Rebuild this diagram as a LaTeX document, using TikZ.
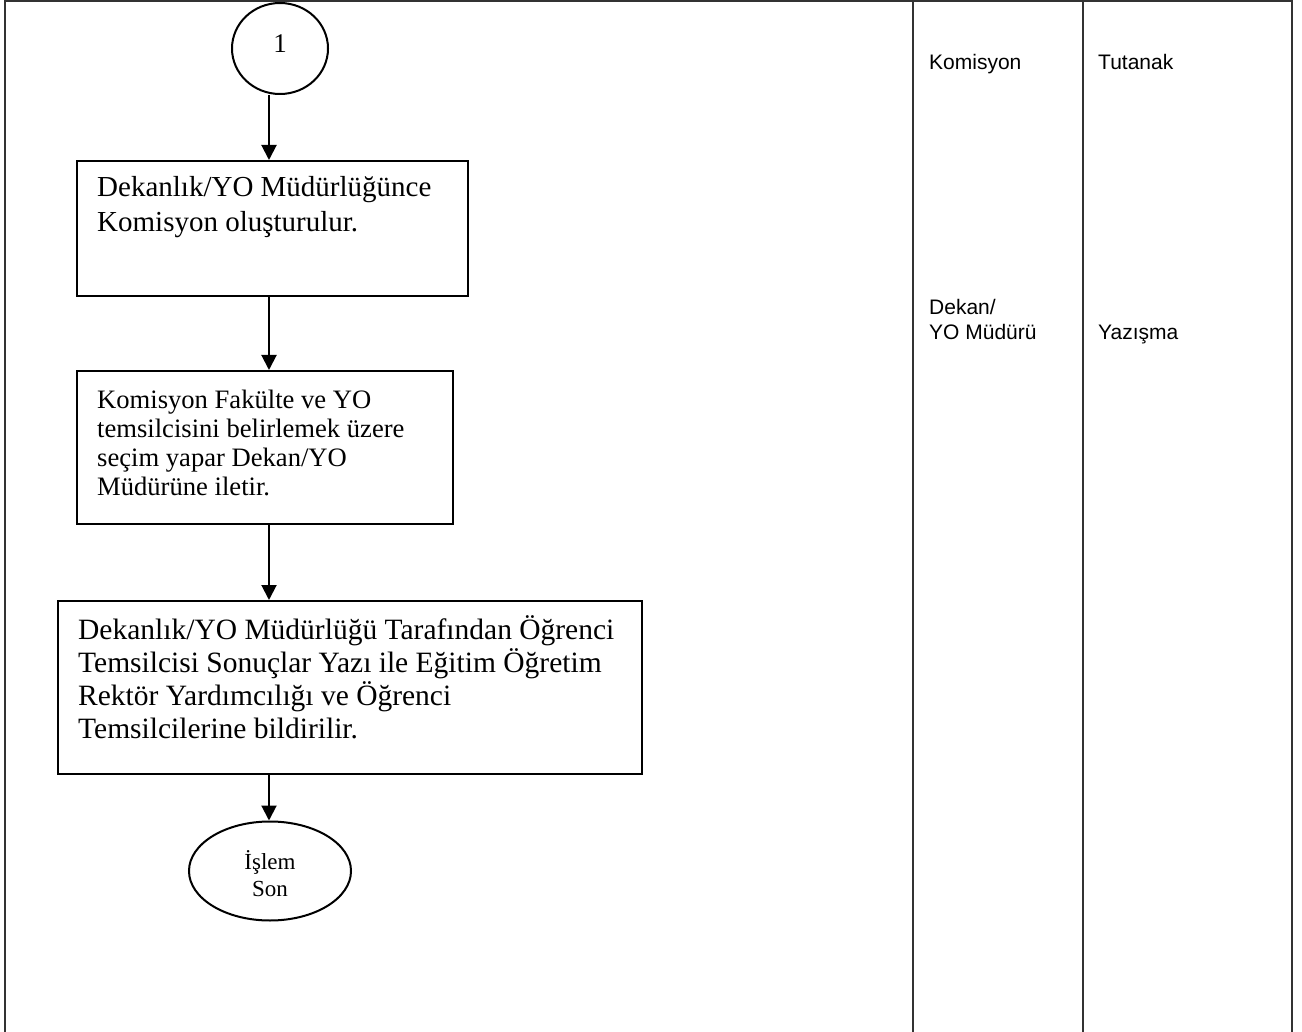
\documentclass[tikz,border=0pt]{standalone}
\usepackage{fontspec}
\setmainfont{Liberation Serif}
\newfontfamily\arialf{Liberation Sans}
\usetikzlibrary{shapes.geometric,arrows.meta}
\begin{document}
\begin{tikzpicture}[x=1pt,y=-1pt,
  frame/.style={line width=1.5pt, draw=black!80},
  box/.style={draw, line width=2pt, rectangle, inner sep=0pt, anchor=north west},
  tx/.style={inner sep=0pt, anchor=base west, align=left},
  arr/.style={line width=2pt, -{Triangle[length=15pt,width=15pt]}},
  lab/.style={inner sep=0pt, anchor=base west, align=left, font=\arialf\fontsize{21}{25}\selectfont}]
\useasboundingbox (0,0) rectangle (1302,1032);
% frame
\draw[frame] (5,1040) -- (5,1) -- (1292,1) -- (1292,1040);
\draw[frame] (913,1) -- (913,1040);
\draw[frame] (1083,1) -- (1083,1040);
% right column labels
\node[lab] (l1) at (929,70) {Komisyon};
\node[lab] (l2) at (1098,70) {Tutanak};
\node[lab] (l3) at (929,340) {Dekan/\\YO Müdürü};
\node[lab] (l4) at (1098,340) {Yazışma};
% flow
\node[draw, line width=2pt, ellipse, minimum width=96pt, minimum height=91pt, inner sep=0pt] (c1) at (280,48.5) {};
\node[inner sep=0pt, font=\fontsize{27}{30}\selectfont] (n1) at (280,44) {1};
\node[box, minimum width=391pt, minimum height=135pt] (b1) at (76,160) {};
\node[tx, font=\fontsize{29}{35}\selectfont] (t1) at (97,232) {Dekanlık/YO Müdürlüğünce\\Komisyon oluşturulur.};
\node[box, minimum width=376pt, minimum height=153pt] (b2) at (76,370) {};
\node[tx, font=\fontsize{26.6}{29}\selectfont] (t2) at (97,495) {Komisyon Fakülte ve YO\\temsilcisini belirlemek üzere\\seçim yapar Dekan/YO\\Müdürüne iletir.};
\node[box, minimum width=584pt, minimum height=173pt] (b3) at (57,600) {};
\node[tx, font=\fontsize{29.5}{33}\selectfont] (t3) at (78,738) {Dekanlık/YO Müdürlüğü Tarafından Öğrenci\\Temsilcisi Sonuçlar Yazı ile Eğitim Öğretim\\Rektör Yardımcılığı ve Öğrenci\\Temsilcilerine bildirilir.};
\node[draw, line width=2pt, ellipse, minimum width=162pt, minimum height=99pt, inner sep=0pt] (e1) at (270,871) {};
\node[inner sep=0pt, align=center, font=\fontsize{23}{27}\selectfont] (et) at (270,874) {İşlem\\Son};
\coordinate (ax) at (269,0);
\draw[arr] (ax |- c1.south) -- (ax |- b1.north);
\draw[arr] (ax |- b1.south) -- (ax |- b2.north);
\draw[arr] (ax |- b2.south) -- (ax |- b3.north);
\draw[arr] (ax |- b3.south) -- (ax |- e1.north);
\end{tikzpicture}
\end{document}
